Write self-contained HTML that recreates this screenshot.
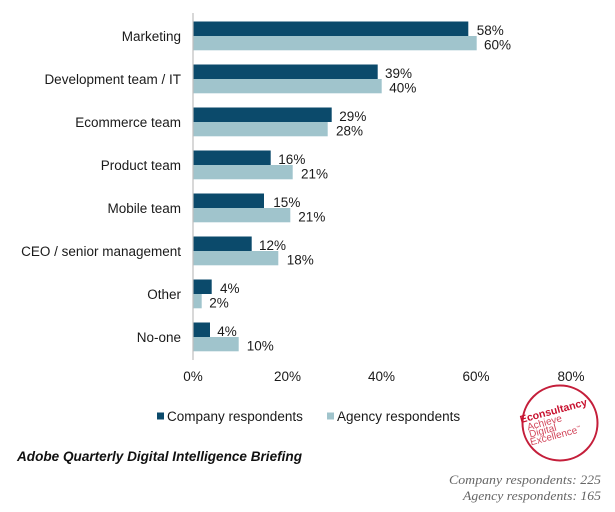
<!DOCTYPE html>
<html>
<head>
<meta charset="utf-8">
<style>
  html,body{margin:0;padding:0;background:#fff;}
  svg{display:block;}
  text{font-family:"Liberation Sans",Arial,sans-serif;}
</style>
</head>
<body>
<svg width="615" height="512" viewBox="0 0 615 512" xmlns="http://www.w3.org/2000/svg">
  <rect width="615" height="512" fill="#fff"/>

  <!-- bars -->
  <g>
    <rect x="193.3" y="21.5" width="275" height="14.5" fill="#0b4a6b"/>
    <rect x="193.3" y="36" width="283.4" height="14.3" fill="#a0c4cc"/>

    <rect x="193.3" y="64.5" width="184.4" height="14.5" fill="#0b4a6b"/>
    <rect x="193.3" y="79" width="188.4" height="14.3" fill="#a0c4cc"/>

    <rect x="193.3" y="107.5" width="138.4" height="14.5" fill="#0b4a6b"/>
    <rect x="193.3" y="122" width="134.4" height="14.3" fill="#a0c4cc"/>

    <rect x="193.3" y="150.5" width="77.4" height="14.5" fill="#0b4a6b"/>
    <rect x="193.3" y="165" width="99.4" height="14.3" fill="#a0c4cc"/>

    <rect x="193.3" y="193.5" width="70.7" height="14.5" fill="#0b4a6b"/>
    <rect x="193.3" y="208" width="97" height="14.3" fill="#a0c4cc"/>

    <rect x="193.3" y="236.5" width="58.4" height="14.5" fill="#0b4a6b"/>
    <rect x="193.3" y="251" width="85" height="14.3" fill="#a0c4cc"/>

    <rect x="193.3" y="279.5" width="18.4" height="14.5" fill="#0b4a6b"/>
    <rect x="193.3" y="294" width="8.4" height="14.3" fill="#a0c4cc"/>

    <rect x="193.3" y="322.5" width="16.7" height="14.5" fill="#0b4a6b"/>
    <rect x="193.3" y="337" width="45.4" height="14.3" fill="#a0c4cc"/>
  </g>

  <!-- axis line -->
  <line x1="193" y1="13" x2="193" y2="360" stroke="#bdbdbd" stroke-width="1.2"/>

  <!-- category labels -->
  <g font-size="13.5" fill="#1a1a1a" text-anchor="end">
    <text x="181" y="41">Marketing</text>
    <text x="181" y="84">Development team / IT</text>
    <text x="181" y="127">Ecommerce team</text>
    <text x="181" y="170">Product team</text>
    <text x="181" y="213">Mobile team</text>
    <text x="181" y="256">CEO / senior management</text>
    <text x="181" y="299">Other</text>
    <text x="181" y="342">No-one</text>
  </g>

  <!-- value labels -->
  <g font-size="13.5" fill="#1a1a1a">
    <text x="476.7" y="35">58%</text>
    <text x="484" y="49.5">60%</text>
    <text x="385" y="78">39%</text>
    <text x="389.3" y="92.5">40%</text>
    <text x="339.3" y="121">29%</text>
    <text x="336" y="135.5">28%</text>
    <text x="278.3" y="164">16%</text>
    <text x="301" y="178.5">21%</text>
    <text x="273.3" y="207">15%</text>
    <text x="298.3" y="221.5">21%</text>
    <text x="259" y="250">12%</text>
    <text x="286.7" y="264.5">18%</text>
    <text x="220" y="293">4%</text>
    <text x="209.3" y="307.5">2%</text>
    <text x="217.3" y="336">4%</text>
    <text x="246.7" y="350.5">10%</text>
  </g>

  <!-- x tick labels -->
  <g font-size="13.5" fill="#1a1a1a" text-anchor="middle">
    <text x="193" y="381">0%</text>
    <text x="287.5" y="381">20%</text>
    <text x="381.5" y="381">40%</text>
    <text x="476" y="381">60%</text>
    <text x="571" y="381">80%</text>
  </g>

  <!-- legend -->
  <rect x="157" y="412.5" width="7" height="7" fill="#0b4a6b"/>
  <text x="167" y="421" font-size="13.5" fill="#1a1a1a">Company respondents</text>
  <rect x="327" y="412.5" width="7" height="7" fill="#a0c4cc"/>
  <text x="337" y="421" font-size="13.5" fill="#1a1a1a">Agency respondents</text>

  <!-- title -->
  <text x="17" y="461" font-size="14" font-weight="bold" font-style="italic" fill="#111" textLength="285" lengthAdjust="spacingAndGlyphs">Adobe Quarterly Digital Intelligence Briefing</text>

  <!-- footnote -->
  <g font-style="italic" font-size="13" fill="#666" text-anchor="end">
    <text x="601" y="484" style="font-family:'Liberation Serif',serif" textLength="152" lengthAdjust="spacingAndGlyphs">Company respondents: 225</text>
    <text x="601" y="500" style="font-family:'Liberation Serif',serif" textLength="138" lengthAdjust="spacingAndGlyphs">Agency respondents: 165</text>
  </g>

  <!-- logo -->
  <circle cx="560" cy="423" r="37.5" fill="#fff" stroke="#c41e3a" stroke-width="2"/>
  <g transform="translate(560,423) rotate(-15)">
    <text x="-37.7" y="-10" font-size="10.5" font-weight="bold" fill="#c8102e" textLength="69" lengthAdjust="spacingAndGlyphs">Econsultancy</text>
    <text x="-32.7" y="-1.2" font-size="10" fill="#d2455a">Achieve</text>
    <text x="-32.6" y="6.4" font-size="10" fill="#d2455a">Digital</text>
    <text x="-33.7" y="14.2" font-size="10" fill="#d2455a">Excellence<tspan font-size="4" dy="-4">™</tspan></text>
  </g>
</svg>
</body>
</html>
